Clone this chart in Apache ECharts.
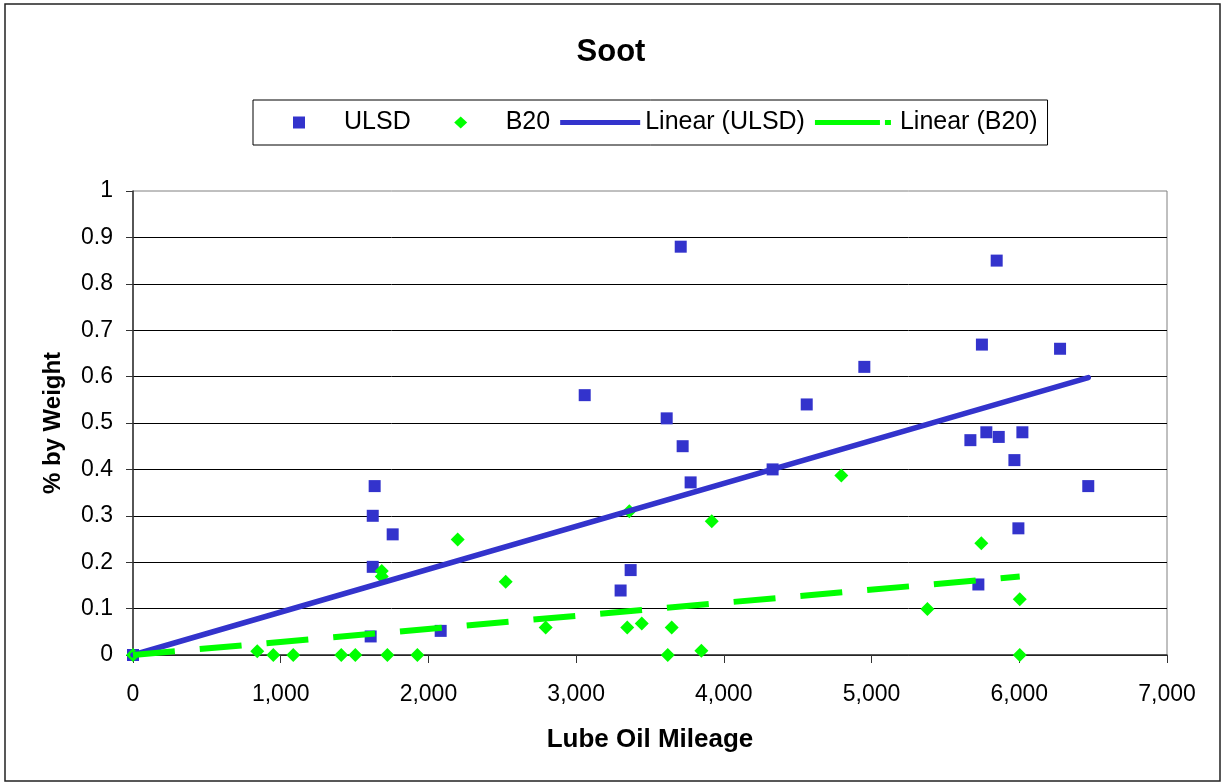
<!DOCTYPE html>
<html>
<head>
<meta charset="utf-8">
<script src="https://cdn.jsdelivr.net/npm/echarts@6/dist/echarts.min.js"></script>
<style>
html,body{margin:0;padding:0;background:#fff;}
#chart{width:1222px;height:784px;}
</style>
</head>
<body>
<div id="chart"></div>
<script>
// ---- data ----
const titleText = 'Soot';
const xAxisName = 'Lube Oil Mileage';
const yAxisName = '% by Weight';
const seriesNames = ['ULSD', 'B20', 'Linear (ULSD)', 'Linear (B20)'];

const ulsdX = [0, 1609, 1623, 1623, 1636, 1758, 2083, 3058, 3301, 3369, 3613, 3708, 3721, 3775, 4330, 4561, 4951, 5669, 5723, 5747, 5777, 5847, 5861, 5967, 5994, 6021, 6276, 6467];
const ulsdY = [0, 0.04, 0.19, 0.30, 0.364, 0.26, 0.052, 0.56, 0.139, 0.183, 0.51, 0.88, 0.45, 0.372, 0.40, 0.54, 0.621, 0.463, 0.152, 0.669, 0.48, 0.85, 0.47, 0.42, 0.273, 0.48, 0.66, 0.364];

const b20X = [0, 841, 950, 1085, 1410, 1505, 1684, 1684, 1722, 1925, 2198, 2523, 2794, 3346, 3360, 3444, 3620, 3647, 3848, 3918, 4795, 5378, 5743, 6003, 6003];
const b20Y = [0, 0.008, 0, 0, 0, 0, 0.181, 0.169, 0, 0, 0.249, 0.158, 0.059, 0.059, 0.31, 0.068, 0, 0.059, 0.009, 0.288, 0.387, 0.099, 0.241, 0.12, 0];

// trend line end points
const ulsdTrendX = [0, 6467];
const ulsdTrendY = [0, 0.598];
const b20TrendX = [0, 6003];
const b20TrendY = [0, 0.169];

const xMin = 0, xMax = 7000, xStep = 1000;
const yMin = 0, yMax = 1, yStep = 0.1;

const zip = (xs, ys) => xs.map((x, i) => [x, ys[i]]);

const FONT = "'Liberation Sans', Arial, sans-serif";
const BLUE = '#3333CC';
const GREEN = '#00FF00';

// legend icons: 80x12 boxes (invisible move-to corners fix the bounding box)
const ICON_BOX = 'M0,0M80,12';
const legendIcons = [
  'path://' + ICON_BOX + 'M34,0h12v12h-12z',
  'path://' + ICON_BOX + 'M40,0L46.5,6L40,12L33.5,6z',
  'path://' + ICON_BOX + 'M0,3.5h80v5h-80z',
  'path://' + ICON_BOX + 'M0,3.5h65v5h-65zM70,3.5h6v5h-6z'
];

const chart = echarts.init(document.getElementById('chart'), null, {renderer: 'canvas'});

chart.setOption({
  backgroundColor: '#ffffff',
  animation: false,
  graphic: [{
    type: 'rect',
    shape: {x: 5, y: 4, width: 1215, height: 777},
    style: {fill: 'none', stroke: '#222', lineWidth: 1.5},
    silent: true,
    z: -1
  }],
  title: {
    text: titleText,
    left: 'center',
    top: 32,
    textStyle: {fontFamily: FONT, fontSize: 31, fontWeight: 'bold', color: '#000'}
  },
  legend: {
    left: 253,
    top: 100,
    orient: 'horizontal',
    padding: [10, 10, 10, 6],
    itemGap: 10,
    itemWidth: 80,
    itemHeight: 12,
    borderColor: '#000',
    borderWidth: 1,
    textStyle: {fontFamily: FONT, fontSize: 25, color: '#000'},
    data: seriesNames.map((n, i) => ({name: n, icon: legendIcons[i]}))
  },
  grid: {
    left: 133,
    right: 55,
    top: 191,
    bottom: 129,
    show: true,
    borderColor: '#808080',
    borderWidth: 1,
    backgroundColor: 'transparent'
  },
  xAxis: {
    type: 'value',
    min: xMin,
    max: xMax,
    interval: xStep,
    name: xAxisName,
    nameLocation: 'middle',
    nameGap: 72,
    nameTextStyle: {fontFamily: FONT, fontSize: 26, fontWeight: 'bold', color: '#000'},
    axisLine: {show: true, onZero: false, lineStyle: {color: '#333', width: 1.5}},
    axisTick: {show: true, inside: false, length: 8, lineStyle: {color: '#333', width: 1}},
    axisLabel: {
      margin: 28,
      fontFamily: FONT, fontSize: 23, color: '#000',
      formatter: v => v.toLocaleString('en-US')
    },
    splitLine: {show: false}
  },
  yAxis: {
    type: 'value',
    min: yMin,
    max: yMax,
    interval: yStep,
    name: yAxisName,
    nameLocation: 'middle',
    nameGap: 68,
    nameTextStyle: {fontFamily: FONT, fontSize: 24, fontWeight: 'bold', color: '#000'},
    axisLine: {show: true, onZero: false, lineStyle: {color: '#333', width: 1.5}},
    axisTick: {show: true, inside: false, length: 7, lineStyle: {color: '#333', width: 1}},
    axisLabel: {
      margin: 20,
      fontFamily: FONT, fontSize: 23, color: '#000',
      formatter: v => String(Math.round(v * 10) / 10)
    },
    splitLine: {show: true, showMaxLine: false, lineStyle: {color: '#000', width: 1}}
  },
  series: [
    {
      name: seriesNames[0],
      type: 'scatter',
      symbol: 'rect',
      symbolSize: 12,
      itemStyle: {color: BLUE, opacity: 1},
      data: zip(ulsdX, ulsdY),
      z: 2
    },
    {
      name: seriesNames[1],
      type: 'scatter',
      symbol: 'diamond',
      symbolSize: 14,
      itemStyle: {color: GREEN, opacity: 1},
      data: zip(b20X, b20Y),
      z: 3
    },
    {
      name: seriesNames[2],
      type: 'line',
      symbol: 'none',
      showSymbol: false,
      itemStyle: {color: BLUE},
      lineStyle: {color: BLUE, width: 5.5, cap: 'round'},
      data: zip(ulsdTrendX, ulsdTrendY),
      z: 4
    },
    {
      name: seriesNames[3],
      type: 'line',
      symbol: 'none',
      showSymbol: false,
      itemStyle: {color: GREEN},
      lineStyle: {color: GREEN, width: 6, type: [42, 25], cap: 'butt'},
      data: zip(b20TrendX, b20TrendY),
      z: 5
    }
  ]
});
</script>
</body>
</html>
